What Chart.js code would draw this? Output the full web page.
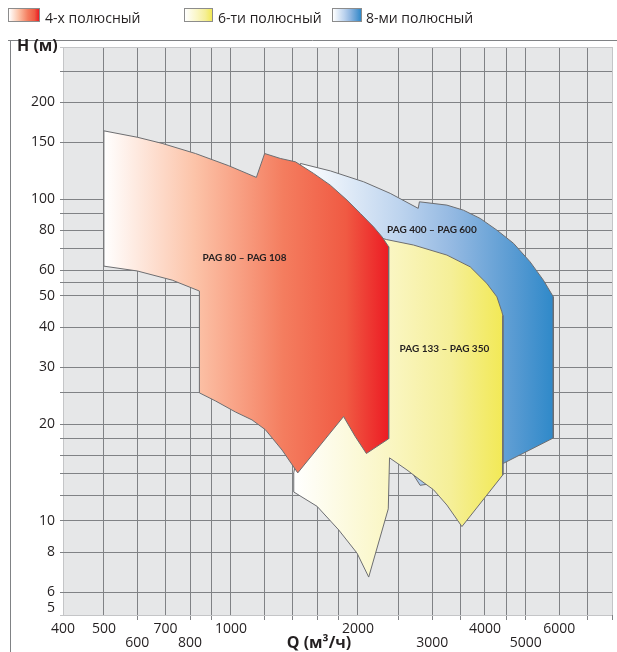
<!DOCTYPE html>
<html>
<head>
<meta charset="utf-8">
<title>PAG pump range</title>
<script src="https://cdn.jsdelivr.net/npm/chart.js@4.4.1/dist/chart.umd.min.js"></script>
<style>
  html, body { margin: 0; padding: 0; background: #fff; }
  #wrap { position: relative; width: 617px; height: 652px; }
  .legend-color { position: absolute; top: 8px; height: 12px; border: 1px solid #8c8c8c; }
  .legend-label { position: absolute; top: 11px; font: 14px 'Open Sans', sans-serif; line-height: 14px; color: #231f20; white-space: nowrap; }
</style>
</head>
<body>
<div id="wrap">
  <canvas id="chart" width="617" height="652"></canvas>
  <div class="legend"></div>
</div>
<script>
const seriesNames = ['4-х полюсный', '6-ти полюсный', '8-ми полюсный'];

// 4-pole field (PAG 80 – PAG 108), outline Q (m3/h) / H (m)
const redQ = [500, 600, 687, 824, 988, 1149, 1202, 1309, 1422, 1570, 1720, 1884, 2026, 2178, 2280, 2365,
  2365, 2094, 1970, 1849, 1440, 1322, 1207, 1122, 1025, 919, 842, 842, 726, 600, 500, 500];
const redH = [163, 155.7, 149.0, 138.6, 127.0, 116.8, 138.6, 133.8, 130.6, 120.2, 110.5, 99.3, 90.3, 82.0, 76.4, 71.1,
  18.0, 16.2, 18.3, 21.1, 14.1, 16.6, 19.2, 20.6, 21.8, 23.6, 25.0, 51.8, 56.0, 59.8, 61.9, 163];

// 6-pole field (PAG 133 – PAG 350)
const yellowQ = [2198, 2335, 2708, 3250, 3690, 4041, 4269, 4385, 4410, 4410, 3527, 3250, 3020, 2808, 2613, 2376,
  2360, 2121, 1990, 1800, 1600, 1409, 1409, 1461, 2198];
const yellowH = [76.7, 74.9, 72.0, 67.0, 61.6, 54.7, 49.7, 44.7, 43.5, 13.9, 9.6, 11.2, 12.5, 13.4, 14.4, 15.7,
  10.9, 6.69, 7.94, 9.38, 11.1, 12.3, 14.1, 17.9, 76.7];

// 8-pole field (PAG 400 – PAG 600)
const blueQ = [1461, 1720, 2063, 2385, 2779, 2797, 3250, 3556, 3897, 4269, 4674, 5114, 5501, 5808, 5808, 4425,
  3690, 3133, 2808, 2589, 2413, 2413, 2198, 1461, 1461];
const blueH = [129.1, 122.4, 113.2, 104.2, 93.6, 98.1, 95.8, 92.4, 87.1, 80.1, 72.9, 63.9, 56.0, 49.7, 18.1, 15.1,
  13.9, 13.2, 12.9, 15.25, 16.0, 72.0, 74.6, 121.3, 129.1];

const labelText = ['PAG 80 – PAG 108', 'PAG 133 – PAG 350', 'PAG 400 – PAG 600'];
const labelQ = [1077, 3206, 2994];
const labelH = [65.6, 34.3, 80.5];

const qGrid = [400, 500, 600, 700, 800, 900, 1000, 1200, 1400, 1600, 1800, 2000, 2500, 3000, 3500, 4000, 4500, 5000, 6000, 7000, 8000];
const qTop = [400, 500, 700, 1000, 2000, 4000, 6000];
const qBottom = [600, 800, 3000, 5000];
const hGrid = [5, 6, 8, 10, 12, 14, 16, 18, 20, 25, 30, 40, 50, 55, 60, 70, 80, 90, 100, 150, 200, 250, 300];
const hLabels = [5, 6, 8, 10, 20, 30, 40, 50, 60, 80, 100, 150, 200];

const gradStops = [
  [[0, '#ffffff'], [0.32, '#fcc3a8'], [0.63, '#f47d5f'], [0.85, '#f05a43'], [1, '#ec1c24']],
  [[0, '#ffffff'], [0.45, '#faf6c4'], [0.75, '#f5ef98'], [1, '#f2e956']],
  [[0, '#ffffff'], [0.4, '#bcd3ee'], [0.6, '#94b9e2'], [0.85, '#579ad2'], [1, '#2f89c9']]
];
const gridColor = '#808285';
const edgeColor = '#c4c5c7';

function toPoints(qs, hs) {
  return qs.map((q, i) => ({ x: q, y: hs[i] }));
}

function gradient(chart, qs, stops) {
  if (!chart.chartArea) return null;
  const x = chart.scales.x;
  const g = chart.ctx.createLinearGradient(x.getPixelForValue(Math.min(...qs)), 0, x.getPixelForValue(Math.max(...qs)), 0);
  stops.forEach(s => g.addColorStop(s[0], s[1]));
  return g;
}

function field(idx, qs, hs) {
  return {
    label: seriesNames[idx],
    data: toPoints(qs, hs),
    showLine: true,
    fill: 'shape',
    tension: 0,
    pointRadius: 0,
    pointHoverRadius: 0,
    borderWidth: 1,
    borderColor: '#6d6e71',
    borderJoinStyle: 'miter',
    backgroundColor: (c) => gradient(c.chart, qs, gradStops[idx])
  };
}

const decorPlugin = {
  id: 'decor',
  beforeDraw(chart) {
    const { ctx, chartArea: a } = chart;
    ctx.save();
    ctx.fillStyle = '#e6e7e8';
    ctx.fillRect(a.left, a.top, a.right - a.left, a.bottom - a.top);
    ctx.strokeStyle = '#808285';
    ctx.lineWidth = 1;
    ctx.beginPath();
    ctx.moveTo(8, 40.5);
    ctx.lineTo(617, 40.5);
    ctx.moveTo(10.5, 40);
    ctx.lineTo(10.5, 652);
    ctx.stroke();
    ctx.restore();
  },
  afterDatasetsDraw(chart) {
    const { ctx } = chart;
    const x = chart.scales.x, y = chart.scales.y;
    ctx.save();
    ctx.fillStyle = '#231f20';
    ctx.font = "bold 10px Lato, sans-serif";
    ctx.textAlign = 'center';
    ctx.textBaseline = 'middle';
    labelText.forEach((t, i) => {
      ctx.fillText(t, x.getPixelForValue(labelQ[i]), y.getPixelForValue(labelH[i]));
    });
    ctx.font = "bold 16px 'Open Sans', sans-serif";
    ctx.textAlign = 'left';
    ctx.fillText('H (м)', 17, 46.5);
    ctx.textAlign = 'center';
    ctx.fillText('Q (м³/ч)', 319, 643);
    ctx.restore();
  }
};

Chart.defaults.font.family = "'Open Sans', sans-serif";
Chart.defaults.color = '#231f20';

const chart = new Chart(document.getElementById('chart').getContext('2d'), {
  type: 'scatter',
  data: {
    datasets: [
      field(0, redQ, redH),
      field(1, yellowQ, yellowH),
      field(2, blueQ, blueH)
    ]
  },
  options: {
    responsive: false,
    devicePixelRatio: 1,
    animation: false,
    layout: { padding: { top: 47, right: 5, bottom: 0, left: 0 } },
    plugins: {
      legend: { display: false },
      tooltip: { enabled: false }
    },
    scales: {
      x: {
        type: 'logarithmic',
        min: 400,
        max: 8000,
        afterBuildTicks: (s) => { s.ticks = qGrid.map(v => ({ value: v })); },
        afterFit: (s) => { s.height = 37; },
        border: { display: false },
        grid: {
          color: (c) => (c.tick && (c.tick.value === 400 || c.tick.value === 8000)) ? edgeColor : gridColor,
          tickColor: (c) => (c.tick && qTop.includes(c.tick.value)) ? 'rgba(0,0,0,0)' : gridColor,
          tickLength: 5,
          lineWidth: 1
        },
        ticks: {
          autoSkip: false,
          maxRotation: 0,
          minRotation: 0,
          padding: 2,
          font: { size: 14, lineHeight: 1 },
          callback: (v, i) => {
            const q = qGrid[i];
            return qTop.includes(q) ? String(q) : (qBottom.includes(q) ? ['', String(q)] : '');
          }
        }
      },
      y: {
        type: 'logarithmic',
        // the printed axis runs a touch short of 5 and 300 at its edges
        min: 5.1,
        max: 297,
        afterBuildTicks: (s) => {
          s.ticks = hGrid.map(v => ({ value: Math.min(Math.max(v, s.min), s.max) }));
        },
        afterFit: (s) => { s.width = 63; },
        border: { display: false },
        grid: {
          color: (c) => (c.index === 0 || c.index === hGrid.length - 1) ? edgeColor : gridColor,
          tickLength: 3,
          lineWidth: 1
        },
        ticks: {
          autoSkip: false,
          padding: 5,
          font: { size: 14, lineHeight: 1 },
          callback: (v, i) => {
            const h = hGrid[i];
            if (i === 0) return [String(h), ''];
            return hLabels.includes(h) ? String(h) : '';
          }
        }
      }
    }
  },
  plugins: [decorPlugin]
});

// html legend with gradient swatches
const legendPos = [[8, 32, 45], [184, 29, 218], [332, 30, 366]];
const legendContainer = document.querySelector('.legend');
legendContainer.innerHTML = seriesNames.map((name, i) => {
  const stops = gradStops[i].map(s => `${s[1]} ${Math.round(s[0] * 100)}%`).join(', ');
  const p = legendPos[i];
  return `
    <span class="legend-color" style="left:${p[0]}px; width:${p[1] - 2}px; background: linear-gradient(to right, ${stops});"></span>
    <span class="legend-label" style="left:${p[2]}px;">${name}</span>`;
}).join('');
</script>
</body>
</html>
